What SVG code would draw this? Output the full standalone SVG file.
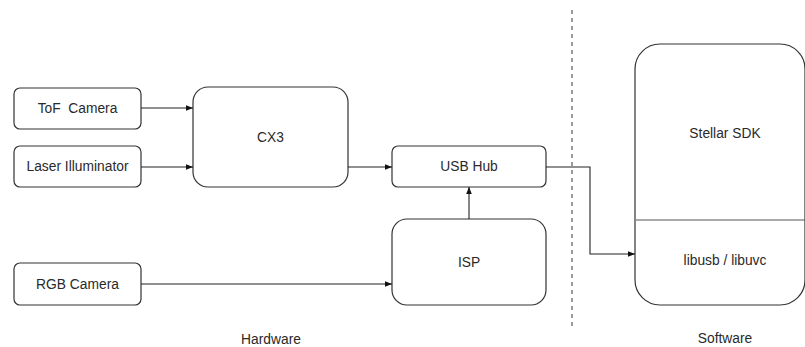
<svg xmlns="http://www.w3.org/2000/svg" width="805" height="347" viewBox="0 0 805 347">
<style>
.n{fill:#fff;stroke:#333;stroke-width:1.2}
.t{font-family:"Liberation Sans",Arial,sans-serif;font-size:13.8px;fill:#2a2a2a;text-anchor:middle;dominant-baseline:central}
.c{fill:none;stroke:#222;stroke-width:1.1}
</style>
<defs>
<marker id="a" viewBox="0 0 10 10" refX="10" refY="5" markerWidth="7" markerHeight="7" markerUnits="userSpaceOnUse" orient="auto"><path d="M0,1 L10,5 L0,9 z" fill="#111"/></marker>
</defs>
<rect width="805" height="347" fill="#fff"/>
<line x1="572" y1="10" x2="572" y2="326" stroke="#666" stroke-width="1.3" stroke-dasharray="4,4"/>
<g id="tof"><rect class="n" x="14" y="88" width="127" height="41" rx="6"/><text class="t" x="77.5" y="108.5" xml:space="preserve">ToF  Camera</text></g>
<g id="laser"><rect class="n" x="14" y="146" width="127" height="41" rx="6"/><text class="t" x="77.5" y="166.5">Laser Illuminator</text></g>
<g id="rgb"><rect class="n" x="14" y="263" width="127" height="42" rx="6"/><text class="t" x="77.5" y="284">RGB Camera</text></g>
<g id="cx3"><rect class="n" x="193" y="87" width="155" height="100" rx="15"/><text class="t" x="270.5" y="137">CX3</text></g>
<g id="usbhub"><rect class="n" x="392" y="146" width="154" height="41" rx="6"/><text class="t" x="469" y="166.5">USB Hub</text></g>
<g id="isp"><rect class="n" x="392" y="219" width="154" height="86" rx="15"/><text class="t" x="469" y="262">ISP</text></g>
<g id="sdk"><rect class="n" x="635" y="44" width="170" height="261" rx="25"/><line x1="636" y1="220" x2="805" y2="220" stroke="#555" stroke-width="1.2"/><text class="t" x="725" y="133">Stellar SDK</text><text class="t" x="725" y="260">libusb / libuvc</text></g>
<g id="labels"><text class="t" x="271" y="339">Hardware</text><text class="t" x="725" y="338">Software</text></g>
<g id="connectors">
<line class="c" x1="141" y1="108" x2="193" y2="108" marker-end="url(#a)"/>
<line class="c" x1="141" y1="167" x2="193" y2="167" marker-end="url(#a)"/>
<line class="c" x1="348" y1="167" x2="392" y2="167" marker-end="url(#a)"/>
<line class="c" x1="141" y1="284" x2="392" y2="284" marker-end="url(#a)"/>
<line class="c" x1="469" y1="219" x2="469" y2="187" marker-end="url(#a)"/>
<polyline class="c" points="546,167 590,167 590,254 635,254" marker-end="url(#a)"/>
</g>
</svg>
